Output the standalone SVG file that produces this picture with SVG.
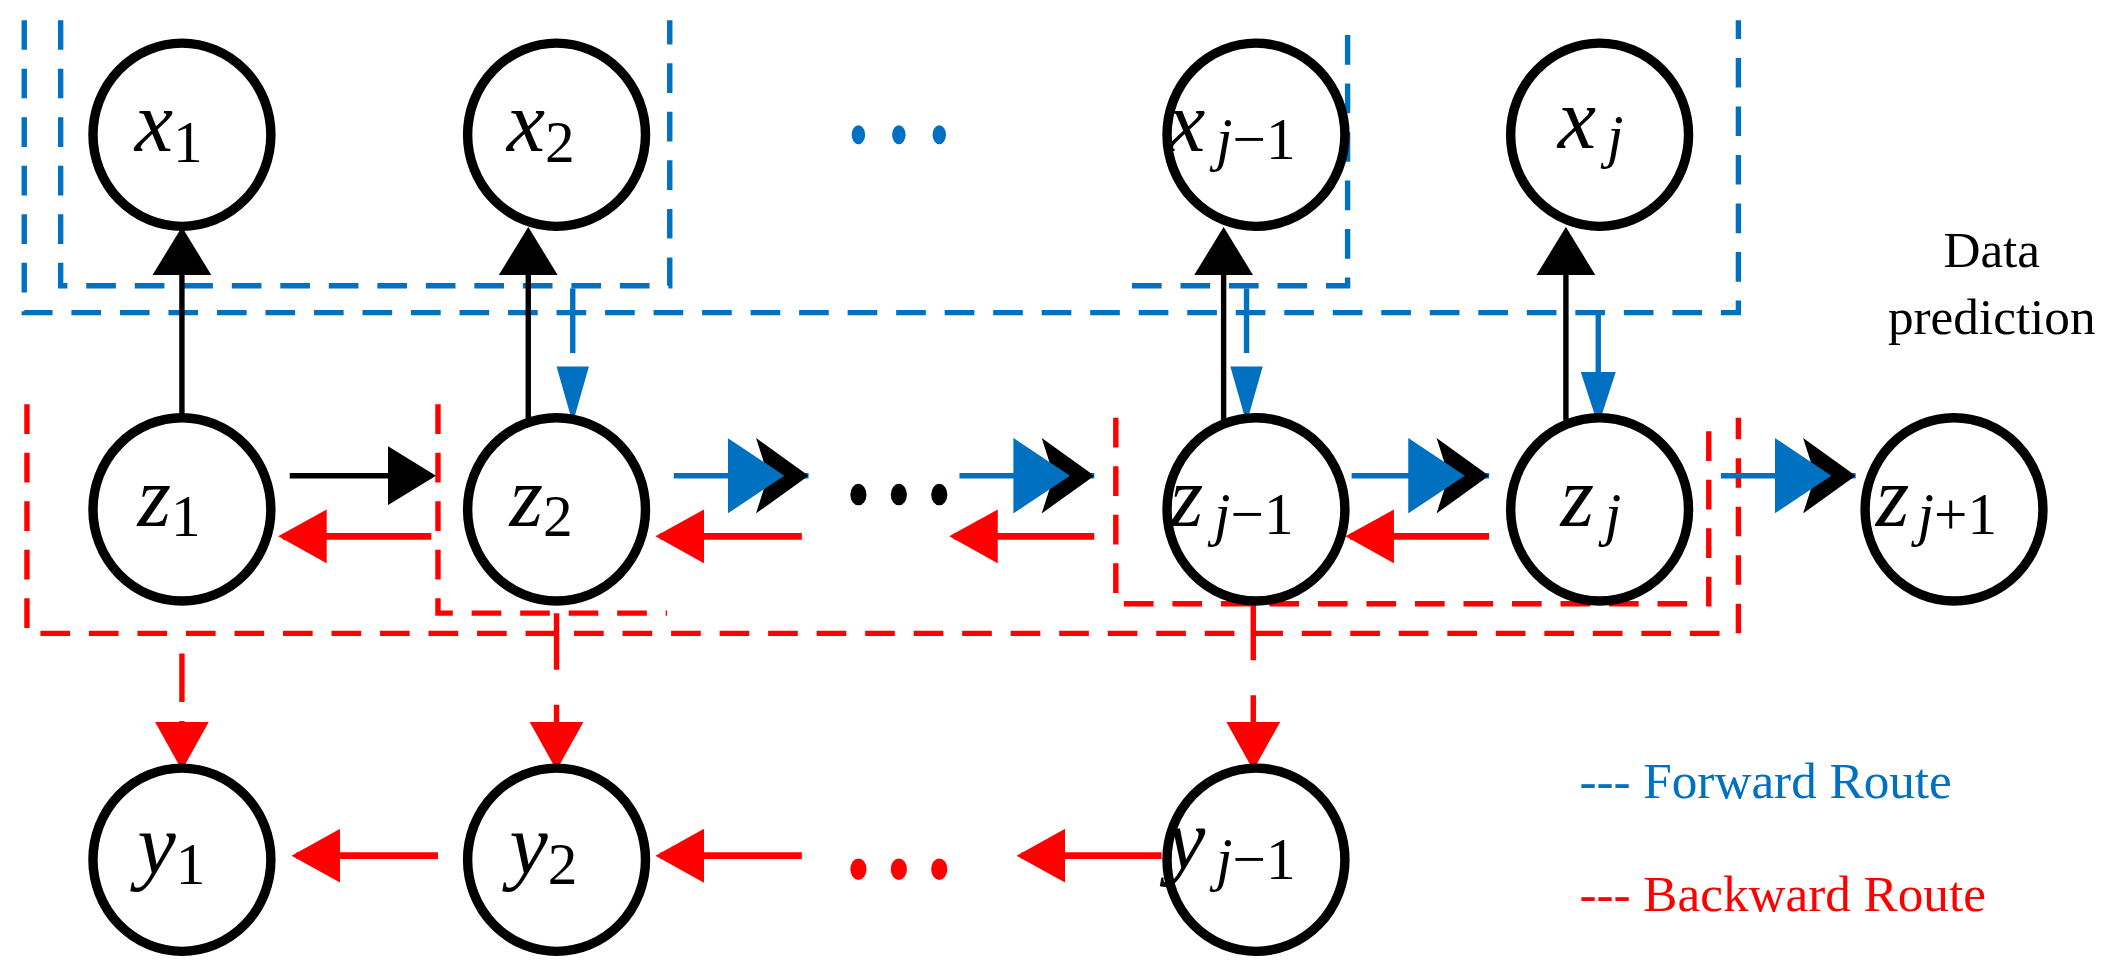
<svg xmlns="http://www.w3.org/2000/svg" width="2113" height="962" viewBox="0 0 2113 962">
<style>
.n{fill:#fff;stroke:#000;stroke-width:7}
.t{font-family:"Liberation Serif",serif;font-size:64px;font-style:italic}
.s{font-size:44px;font-style:normal}
.i{font-style:italic}
.bd{stroke:#0070c0;stroke-width:4;stroke-dasharray:22 14;fill:none}
.rd{stroke:#ff0000;stroke-width:4;stroke-dasharray:22 14;fill:none}
.bl{stroke:#000;stroke-width:4}
.bs{stroke:#0070c0;stroke-width:4}
.rs{stroke:#ff0000;stroke-width:5}
</style>
<defs>
<marker id="ab" viewBox="0 0 10 10" refX="9" refY="5" markerWidth="40" markerHeight="26" orient="auto" markerUnits="userSpaceOnUse" preserveAspectRatio="none"><path d="M0,0L10,5L0,10z" fill="#0070c0"/></marker>
<marker id="ar" viewBox="0 0 10 10" refX="9" refY="5" markerWidth="36" markerHeight="40" orient="auto" markerUnits="userSpaceOnUse" preserveAspectRatio="none"><path d="M0,0L10,5L0,10z" fill="#ff0000"/></marker>
<marker id="akb" viewBox="0 0 10 10" refX="9" refY="5" markerWidth="36" markerHeight="44" orient="auto" markerUnits="userSpaceOnUse" preserveAspectRatio="none"><path d="M0,0L10,5L0,10z" fill="#000"/></marker>
<marker id="dbl" viewBox="0 0 40 40" refX="40" refY="20" markerWidth="60" markerHeight="56" orient="auto" markerUnits="userSpaceOnUse" preserveAspectRatio="none"><path d="M14,0L40,20L14,40L20,20z" fill="#000"/><path d="M0,0L28,20L0,40z" fill="#0070c0"/></marker>
</defs>
<g transform="scale(1.3476)">
<g id="boxes">
<path class="bd" d="M18,15V232H1290V15"/>
<path class="bd" d="M45,15V212H497V15"/>
<path class="bd" d="M840,212H1000V15"/>
<path class="rd" d="M20,300V470H1290V310"/>
<path class="rd" d="M325,300V455H495"/>
<path class="rd" d="M828,310V448H1268V310"/>
</g>
<g id="connectors">
<line class="bl" x1="135" y1="310" x2="135" y2="172" marker-end="url(#akb)"/>
<line class="bl" x1="392" y1="312" x2="392" y2="172" marker-end="url(#akb)"/>
<line class="bl" x1="908" y1="312" x2="908" y2="172" marker-end="url(#akb)"/>
<line class="bl" x1="1162" y1="312" x2="1162" y2="172" marker-end="url(#akb)"/>
<line class="bs" x1="425" y1="214" x2="425" y2="262"/>
<line class="bs" x1="925" y1="214" x2="925" y2="262"/>
<path d="M413,272L437,272L425,314z M913,272L937,272L925,314z" fill="#0070c0"/>
<line class="bs" x1="1186" y1="232" x2="1186" y2="312" marker-end="url(#ab)"/>
<line class="bl" x1="215" y1="353" x2="320" y2="353" marker-end="url(#akb)"/>
<line class="bs" x1="500" y1="353" x2="600" y2="353" marker-end="url(#dbl)"/>
<line class="bs" x1="712" y1="353" x2="812" y2="353" marker-end="url(#dbl)"/>
<line class="bs" x1="1003" y1="353" x2="1105" y2="353" marker-end="url(#dbl)"/>
<line class="bs" x1="1277" y1="353" x2="1377" y2="353" marker-end="url(#dbl)"/>
<line class="rs" x1="320" y1="398" x2="210" y2="398" marker-end="url(#ar)"/>
<line class="rs" x1="595" y1="398" x2="490" y2="398" marker-end="url(#ar)"/>
<line class="rs" x1="812" y1="398" x2="708" y2="398" marker-end="url(#ar)"/>
<line class="rs" x1="1105" y1="398" x2="1002" y2="398" marker-end="url(#ar)"/>
<line class="rd" x1="135" y1="485" x2="135" y2="568" style="stroke-dasharray:36 14" marker-end="url(#ar)"/>
<line class="rd" x1="413" y1="455" x2="413" y2="568" style="stroke-dasharray:42 26" marker-end="url(#ar)"/>
<line class="rd" x1="930" y1="448" x2="930" y2="568" style="stroke-dasharray:42 26" marker-end="url(#ar)"/>
<line class="rs" x1="325" y1="635" x2="220" y2="635" marker-end="url(#ar)"/>
<line class="rs" x1="595" y1="635" x2="490" y2="635" marker-end="url(#ar)"/>
<line class="rs" x1="862" y1="635" x2="758" y2="635" marker-end="url(#ar)"/>
</g>
<g id="dots">
<g fill="#0070c0"><ellipse cx="637" cy="100" rx="5" ry="7"/><ellipse cx="667" cy="100" rx="5" ry="7"/><ellipse cx="697" cy="100" rx="5" ry="7"/></g>
<g fill="#000"><ellipse cx="637" cy="367" rx="6" ry="8"/><ellipse cx="667" cy="367" rx="6" ry="8"/><ellipse cx="697" cy="367" rx="6" ry="8"/></g>
<g fill="#ff0000"><ellipse cx="637" cy="645" rx="6" ry="8"/><ellipse cx="667" cy="645" rx="6" ry="8"/><ellipse cx="697" cy="645" rx="6" ry="8"/></g>
</g>
<g id="x1"><ellipse class="n" cx="135" cy="100" rx="66" ry="68"/><text class="t" x="100" y="112">x<tspan class="s" dy="8">1</tspan></text></g>
<g id="x2"><ellipse class="n" cx="413" cy="100" rx="66" ry="68"/><text class="t" x="376" y="112">x<tspan class="s" dy="8">2</tspan></text></g>
<g id="xj1"><ellipse class="n" cx="932" cy="100" rx="66" ry="68"/><text class="t" x="866" y="112">x<tspan class="s i" dx="8" dy="6">j</tspan><tspan class="s">−1</tspan></text></g>
<g id="xj"><ellipse class="n" cx="1187" cy="100" rx="66" ry="68"/><text class="t" x="1156" y="110">x<tspan class="s i" dx="8" dy="6">j</tspan></text></g>
<g id="z1"><ellipse class="n" cx="135" cy="378" rx="66" ry="68"/><text class="t" x="102" y="390">z<tspan class="s" dy="8">1</tspan></text></g>
<g id="z2"><ellipse class="n" cx="413" cy="378" rx="66" ry="68"/><text class="t" x="378" y="390">z<tspan class="s" dy="8">2</tspan></text></g>
<g id="zj1"><ellipse class="n" cx="932" cy="378" rx="66" ry="68"/><text class="t" x="868" y="390">z<tspan class="s i" dx="8" dy="6">j</tspan><tspan class="s">−1</tspan></text></g>
<g id="zj"><ellipse class="n" cx="1187" cy="378" rx="66" ry="68"/><text class="t" x="1158" y="390">z<tspan class="s i" dx="8" dy="6">j</tspan></text></g>
<g id="zj2"><ellipse class="n" cx="1450" cy="378" rx="66" ry="68"/><text class="t" x="1392" y="390">z<tspan class="s i" dx="6" dy="6">j</tspan><tspan class="s">+1</tspan></text></g>
<g id="y1"><ellipse class="n" cx="135" cy="638" rx="66" ry="68"/><text class="t" x="102" y="648">y<tspan class="s" dy="8">1</tspan></text></g>
<g id="y2"><ellipse class="n" cx="413" cy="638" rx="66" ry="68"/><text class="t" x="378" y="648">y<tspan class="s" dy="8">2</tspan></text></g>
<g id="yj1"><ellipse class="n" cx="932" cy="638" rx="66" ry="68"/><text class="t" x="866" y="644">y<tspan class="s i" dx="8" dy="8">j</tspan><tspan class="s">−1</tspan></text></g>
<g id="labels" font-family="Liberation Serif,serif" font-size="38">
<text x="1478" y="198" text-anchor="middle">Data</text>
<text x="1478" y="248" text-anchor="middle">prediction</text>
<text x="1172" y="592" fill="#0070c0">--- Forward Route</text>
<text x="1172" y="676" fill="#ff0000">--- Backward Route</text>
</g>
</g>
</svg>
